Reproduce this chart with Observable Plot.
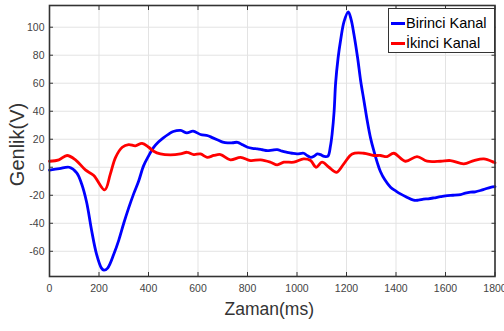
<!DOCTYPE html>
<html>
<head>
<meta charset="utf-8">
<script src="https://cdn.jsdelivr.net/npm/d3@7"></script>
<script src="https://cdn.jsdelivr.net/npm/@observablehq/plot@0.6"></script>
<style>
  html, body { margin: 0; padding: 0; background: #fff; overflow: hidden; }
  #wrap { position: relative; width: 504px; height: 331px; }
  #legend { position: absolute; left: 388px; top: 8px; width: 107px; height: 45px;
    border: 1px solid #333; background: #fff; font-family: "Liberation Sans", Arial, sans-serif;
    font-size: 14.5px; color: #000; box-sizing: border-box; }
  .li { position: absolute; left: 2px; height: 18px; display: flex; align-items: center; white-space: nowrap; }
  .sw { width: 14px; height: 3px; margin-right: 1px; }
</style>
</head>
<body>
<div id="wrap"></div>
<script>
const seriesNames = ["Birinci Kanal", "İkinci Kanal"];
const seriesColors = ["#0000ff", "#ff0000"];
const xTicks = [0, 200, 400, 600, 800, 1000, 1200, 1400, 1600, 1800];
const yTicks = [-60, -40, -20, 0, 20, 40, 60, 80, 100];

// Birinci Kanal (blue)
const blueMs = [0,40,80,110,130,150,170,190,210,220,235,260,280,300,320,340,360,380,400,420,440,460,480,500,530,555,580,610,640,660,680,700,720,740,760,780,800,820,840,860,880,900,920,940,960,980,1000,1027,1040,1055,1070,1082,1095,1110,1125,1135,1142,1150,1156,1166,1176,1190,1207,1218,1230,1245,1257,1270,1284,1297,1310,1325,1337,1355,1378,1400,1418,1440,1471,1490,1511,1530,1552,1580,1608,1630,1661,1680,1701,1720,1741,1760,1782,1800];
const blueV = [-2,-1,0,-4,-12,-25,-45,-62,-72,-73.5,-72,-62,-52,-40,-29,-19,-10,1,8,14,18,21,23.5,25.5,26.3,24.5,25.8,23.4,22.5,21,19.5,18,17.4,17.5,17.8,16,14.3,13.5,13.1,12.5,11.9,12.3,12.6,11.5,10.7,10,9.5,10,8.5,7.1,8,9.5,9,7.8,8,15,24,40,60,78,90.5,104,111,106,95,78,62,48,33,21,12,3,-3,-9,-14.3,-17,-19,-21,-23.5,-23.5,-22.8,-22.5,-21.9,-21,-20.2,-20,-19.5,-18.5,-17.8,-17.5,-16.6,-15.5,-14.3,-13.8];

// İkinci Kanal (red)
const redMs = [0,38,71,105,145,179,223,246,267,294,320,347,374,401,421,448,489,529,556,583,610,637,664,691,731,772,812,853,893,920,947,987,1027,1055,1077,1101,1129,1160,1189,1223,1270,1310,1337,1364,1391,1438,1485,1526,1580,1620,1674,1715,1755,1795,1800];
const redV = [4.3,5.3,8.4,5.3,-1.9,-5.9,-16.2,-4.7,7.1,14.3,16.2,15.3,17.1,14.3,11.4,9.5,8.8,9.5,10.7,9.1,9.5,7.1,8.4,9.1,5.3,7.1,4.8,5.3,3.6,1.7,3.6,3.6,6,4.8,0,3.6,0,-3.6,2.4,9.5,10,8.4,8.4,7.6,10,4.3,7.6,4.3,4.3,4.8,2.4,4.8,6,3.6,3.2];

const blue = blueMs.map((t, i) => ({t, v: blueV[i]}));
const red = redMs.map((t, i) => ({t, v: redV[i]}));

const font = "Liberation Sans, Arial, sans-serif";
const plot = Plot.plot({
  width: 504,
  height: 331,
  marginLeft: 49,
  marginRight: 9.5,
  marginTop: 5,
  marginBottom: 55,
  style: {fontFamily: font, fontSize: "10.5px", color: "#444", background: "#fff"},
  x: {domain: [0, 1800]},
  y: {domain: [-78, 115.5]},
  marks: [
    Plot.gridX(xTicks, {stroke: "#e3e3e3", strokeOpacity: 1}),
    Plot.gridY(yTicks, {stroke: "#e3e3e3", strokeOpacity: 1}),
    Plot.axisX(xTicks, {tickSize: 0, tickPadding: 8, label: null, tickFormat: d => String(d)}),
    Plot.axisY(yTicks, {tickSize: 0, tickPadding: 5, label: null, tickFormat: d => String(d)}),
    Plot.line(blue, {x: "t", y: "v", stroke: seriesColors[0], strokeWidth: 2.8, curve: "catmull-rom"}),
    Plot.line(red, {x: "t", y: "v", stroke: seriesColors[1], strokeWidth: 2.8, curve: "catmull-rom"}),
    Plot.axisX(xTicks, {anchor: "bottom", tickSize: -4, tickFormat: () => "", label: null, stroke: "#333"}),
    Plot.axisX(xTicks, {anchor: "top", tickSize: -4, tickFormat: () => "", label: null, stroke: "#333"}),
    Plot.axisY(yTicks, {anchor: "left", tickSize: -4, tickFormat: () => "", label: null, stroke: "#333"}),
    Plot.axisY(yTicks, {anchor: "right", tickSize: -4, tickFormat: () => "", label: null, stroke: "#333"}),
    Plot.frame({stroke: "#333", strokeWidth: 1.6}),
    Plot.text(["Zaman(ms)"], {frameAnchor: "bottom", textAnchor: "middle", lineAnchor: "middle", dy: 33, dx: -3, fontSize: 17.5, fill: "#333"}),
    Plot.text(["Genlik(V)"], {frameAnchor: "left", textAnchor: "middle", lineAnchor: "middle", dx: -32, dy: 3.5, rotate: -90, fontSize: 20, fill: "#333"})
  ]
});

const wrap = document.getElementById("wrap");
wrap.appendChild(plot);
const legend = document.createElement("div");
legend.id = "legend";
seriesNames.forEach((name, i) => {
  const row = document.createElement("div");
  row.className = "li";
  row.style.top = (6 + i * 20 - 1) + "px";
  const sw = document.createElement("div");
  sw.className = "sw";
  sw.style.background = seriesColors[i];
  const tx = document.createElement("span");
  tx.textContent = name;
  row.appendChild(sw);
  row.appendChild(tx);
  legend.appendChild(row);
});
wrap.appendChild(legend);
</script>
</body>
</html>
